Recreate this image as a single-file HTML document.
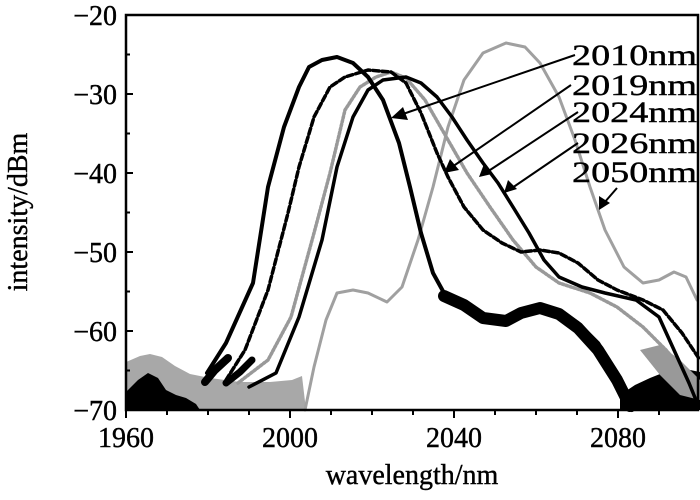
<!DOCTYPE html>
<html><head><meta charset="utf-8"><style>
html,body{margin:0;padding:0;background:#fff}
svg{display:block}
svg text{font-family:"Liberation Serif","Times New Roman",Times,serif;fill:#000;stroke:#000;stroke-width:0.4}
</style></head><body>
<svg width="700" height="500" viewBox="0 0 700 500" xmlns="http://www.w3.org/2000/svg" font-family="Liberation Serif, Times New Roman, serif">
<polygon fill="#a8a8a8" points="126,362 140,356 150,354 162,357 175,366 190,374 210,378 240,382 270,382 292,380 302,376 306,410 126,410"/>
<polygon fill="#000" points="126,392 138,380 148,373 158,378 166,390 176,395 186,398 196,404 200,410 126,410"/>
<polygon fill="#000" points="620,395 635,385 650,378 665,372 680,368 700,372 700,410 620,410"/>
<polygon fill="#999" points="640,350 660,345 680,360 700,380 700,400 680,395 660,375"/>
<g fill="none" stroke-linejoin="round" stroke-linecap="round">
<polyline stroke="#a0a0a0" stroke-width="3" points="305,410 314,367 326,320 337,293 353,290 368,293 387,302 402,287 418,240 433,187 448,127 464,80 483,53 506,43 525,47 540,63 559,97 575,140 590,187 605,230 624,267 643,283 659,280 674,272 686,277 697,300"/>
<polyline stroke="#999" stroke-width="3.5" stroke-dasharray="2 2" points="238,383 268,360 291,317 314,233 330,173 345,110 360,87 376,77 391,72 406,78 425,100 444,133 467,173 490,207 513,240 536,267 559,283 590,293 617,307 643,327 666,350 689,377 698,395"/>
<polyline stroke="#000" stroke-width="3.5" points="249,387 276,373 299,317 322,240 337,167 353,117 368,90 383,80 406,77 421,83 437,97 452,117 467,140 483,163 498,183 513,207 529,233 544,260 559,277 582,287 605,293 636,300 659,317 674,350 689,383 698,405"/>
<polyline stroke="#000" stroke-width="3.5" stroke-dasharray="6 3" points="226,380 245,350 268,290 288,213 299,167 314,117 330,87 345,77 368,70 391,72 406,83 421,113 437,153 448,177 464,207 483,230 502,243 521,252 540,250 559,253 578,263 598,280 617,290 643,300 663,310 682,333 700,360"/>
<polyline stroke="#000" stroke-width="4" points="207,373 226,343 253,283 268,187 284,127 299,87 309,67 322,60 337,57 353,63 368,77 383,100 399,143 410,187 421,233 433,273 444,293 464,303 483,317 506,320 521,310 540,305 559,310 578,323 598,343 617,373 632,410"/>
<polyline stroke="#000" stroke-width="12" points="444,296 464,305 483,318 506,321 521,313 540,308 559,314 578,328 598,350 617,380 630,406"/>
<polyline stroke="#000" stroke-width="8" points="205,382 215,370 228,358"/>
<polyline stroke="#000" stroke-width="7" points="226,383 240,372 252,360"/>
</g>
<g stroke="#000" stroke-width="2">
<line x1="575" y1="55" x2="400" y2="115"/>
<line x1="571" y1="85" x2="452" y2="167"/>
<line x1="578" y1="112" x2="487" y2="172"/>
<line x1="578" y1="143" x2="512" y2="188"/>
<line x1="617" y1="188" x2="604" y2="203"/>
</g>
<g fill="#000">
<polygon points="391,118 403,107 408,120"/>
<polygon points="444,173 450,159 459,170"/>
<polygon points="479,177 484,164 492,174"/>
<polygon points="504,193 508,180 517,189"/>
<polygon points="599,210 599,196 610,203"/>
</g>
<g font-size="30">
<text x="697" y="65" text-anchor="end" textLength="125" lengthAdjust="spacingAndGlyphs">2010nm</text>
<text x="697" y="95" text-anchor="end" textLength="125" lengthAdjust="spacingAndGlyphs">2019nm</text>
<text x="697" y="122" text-anchor="end" textLength="125" lengthAdjust="spacingAndGlyphs">2024nm</text>
<text x="697" y="153" text-anchor="end" textLength="125" lengthAdjust="spacingAndGlyphs">2026nm</text>
<text x="697" y="182" text-anchor="end" textLength="125" lengthAdjust="spacingAndGlyphs">2050nm</text>
</g>
<rect x="126" y="15" width="572" height="395" fill="none" stroke="#000" stroke-width="2.5"/>
<g stroke="#000" stroke-width="2">
<line x1="126" y1="15" x2="133" y2="15"/><line x1="126" y1="94" x2="133" y2="94"/><line x1="126" y1="173" x2="133" y2="173"/><line x1="126" y1="252" x2="133" y2="252"/><line x1="126" y1="331" x2="133" y2="331"/>
<line x1="126" y1="54.5" x2="130" y2="54.5"/><line x1="126" y1="133.5" x2="130" y2="133.5"/><line x1="126" y1="212.5" x2="130" y2="212.5"/><line x1="126" y1="291.5" x2="130" y2="291.5"/><line x1="126" y1="370.5" x2="130" y2="370.5"/>
<line x1="126" y1="410" x2="126" y2="418"/><line x1="167" y1="410" x2="167" y2="415"/><line x1="208" y1="410" x2="208" y2="415"/><line x1="249" y1="410" x2="249" y2="415"/>
<line x1="290" y1="410" x2="290" y2="418"/><line x1="331" y1="410" x2="331" y2="415"/><line x1="372" y1="410" x2="372" y2="415"/><line x1="413" y1="410" x2="413" y2="415"/>
<line x1="454" y1="410" x2="454" y2="418"/><line x1="495" y1="410" x2="495" y2="415"/><line x1="536" y1="410" x2="536" y2="415"/><line x1="577" y1="410" x2="577" y2="415"/>
<line x1="618" y1="410" x2="618" y2="418"/><line x1="659" y1="410" x2="659" y2="415"/>
</g>
<g font-size="28" text-anchor="end">
<text x="117" y="25">−20</text><text x="117" y="104">−30</text><text x="117" y="183">−40</text><text x="117" y="262">−50</text><text x="117" y="341">−60</text><text x="117" y="420">−70</text>
</g>
<g font-size="28" text-anchor="middle">
<text x="126" y="447">1960</text><text x="290" y="447">2000</text><text x="454" y="447">2040</text><text x="618" y="447">2080</text>
<text x="412" y="484">wavelength/nm</text>
</g>
<text font-size="28" text-anchor="middle" transform="translate(27,212) rotate(-90)">intensity/dBm</text>
</svg>
</body></html>
